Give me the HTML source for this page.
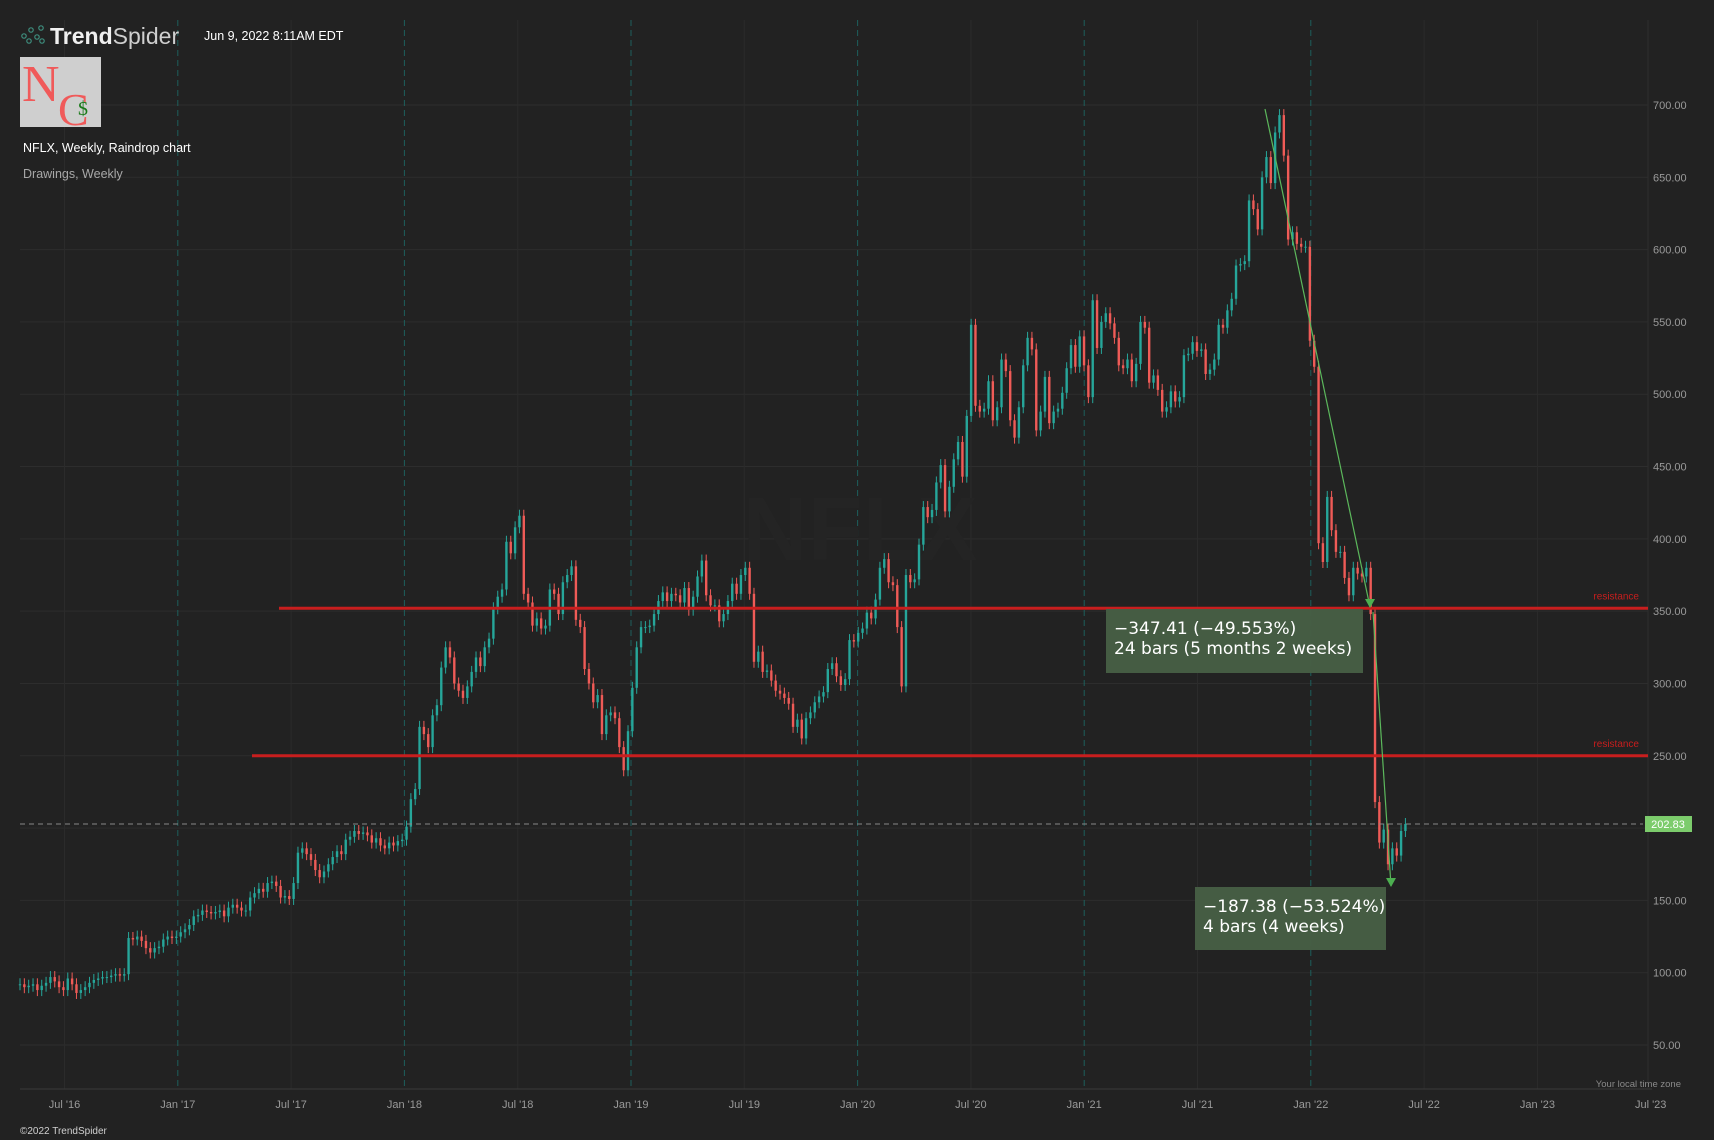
<!DOCTYPE html>
<html><head><meta charset="utf-8">
<style>
html,body{margin:0;padding:0;background:#222222;}
#wrap{position:relative;width:1714px;height:1140px;overflow:hidden;background:#222222;font-family:"Liberation Sans","DejaVu Sans",sans-serif;}
svg{position:absolute;left:0;top:0;}
</style></head>
<body>
<div id="wrap">
<svg id="chart" width="1714" height="1140"></svg>
</div>
<script>
// ---- data (weekly closes, NFLX, starting week of Apr 18 2016) ----
const closes2016 = [92,90, 91,92,88,91,93, 97,94,90,88, 96,92,86,88, 90,93,95,96, 97,97,98,99,98, 99,124,123,125, 122,117,114,117, 118,123,125,124,125];
const closes2017 = [128,130,133,139, 140,143,142,141, 142,143,139,145,147, 145,143,143,152, 155,158,156,162, 163,160,152,153, 151,162,183,186,182, 178,171,166,170, 175,180,184,182, 192,194,198,196,197, 195,190,193,188, 186,190,188,191,192];
const closes2018 = [201,220,227,270, 265,256,278,285, 311,325,318,300,295, 290,298,308,318, 312,325,331,352, 360,365,398,390, 408,416,362,356,340, 345,338,340,365, 362,348,370,375, 381,344,339,310,300, 287,292,265,278, 280,276,256,240,267];
const closes2019 = [297,325,339,339, 340,348,357,363, 357,362,361,356, 366,351,360,374, 385,361,354,354,343, 348,357,369,362, 375,380,362,315,322, 308,309,302,295, 293,290,286,270, 275,262,276,280,287, 291,294,310,314, 305,299,303,330,329];
const closes2020 = [335,338,349,345, 358,380,386,370, 368,339,298,375,370, 372,396,422,415, 420,439,451,419, 436,455,467,443, 485,548,492,488,490, 509,482,491,524, 516,482,470,491, 520,539,531,475,488, 512,480,488,490, 501,518,534,519,540];
const closes2021 = [520,498,565,532, 550,556,549,539, 520,518,524,509,521, 550,546,508,513, 503,488,491,502, 495,498,527,528, 536,530,531,514,517, 524,548,546,558, 566,589,590,592, 634,628,614,650,664, 646,681,693,665, 607,612,604,602,602];
const closes2022 = [537,519,397,384, 429,406,391,391, 373,361,380,376,374, 380,348,218,190, 199,175,186,181, 198,202.83];
const closes = [].concat(closes2016,closes2017,closes2018,closes2019,closes2020,closes2021,closes2022);
const priceTicks = [700,650,600,550,500,450,400,350,300,250,200,150,100,50];
const priceTickLabels = ["700.00","650.00","600.00","550.00","500.00","450.00","400.00","350.00","300.00","250.00","","150.00","100.00","50.00"];
const timeLabels = ["Jul '16","Jan '17","Jul '17","Jan '18","Jul '18","Jan '19","Jul '19","Jan '20","Jul '20","Jan '21","Jul '21","Jan '22","Jul '22","Jan '23","Jul '23"];
const resistanceLevels = [352,250];
const lastPrice = 202.83;

// ---- axes ----
const NS="http://www.w3.org/2000/svg";
const svg=document.getElementById('chart');
const WEEK=4.343, X0=20;
function x(i){return X0+i*WEEK;}
function xHalf(k){return 64.5+k*113.3;}
function y(p){return 105+(700-p)/50*72.31;}
function el(tag,attrs,parent){const e=document.createElementNS(NS,tag);for(const k in attrs)e.setAttribute(k,attrs[k]);(parent||svg).appendChild(e);return e;}

// grid
priceTicks.forEach((p,i)=>{
  const g=el('line',{x1:20,x2:1648,y1:y(p),y2:y(p),stroke:'#2d2d2d','stroke-width':1});
  
  
  if(priceTickLabels[i]){
    const t=el('text',{x:1653,y:y(p)+4,fill:'#9a9a9a','font-size':11});
    t.textContent=priceTickLabels[i];
    
    
  }
});
timeLabels.forEach((lab,k)=>{
  const xx=xHalf(k);
  const isJan=lab.startsWith('Jan') && xx<1400;
  if(xx<1646){
    const g=el('line',{x1:xx,x2:xx,y1:20,y2:1089,stroke:isJan?'#1d5f5c':'#2b2b2b','stroke-width':1,'stroke-dasharray':isJan?'6,4':'none'});
    
    
  }
  const t=el('text',{x:xx,y:1108,fill:'#9a9a9a','font-size':11,'text-anchor':'middle'});
  t.textContent=lab;
  
  
});
const ax=el('line',{x1:20,x2:1652,y1:1089,y2:1089,stroke:'#3a3a3a','stroke-width':1});


const ay=el('line',{x1:1648,x2:1648,y1:20,y2:1089,stroke:'#2d2d2d','stroke-width':1});



// watermark
const wm=el('text',{x:860,y:560,fill:'#242424','font-size':90,'font-weight':'bold','text-anchor':'middle'});
wm.textContent='NFLX';



// candles
for(let i=0;i<closes.length;i++){
  const c=closes[i], o=i>0?closes[i-1]:c;
  const up=c>=o;
  const col=up?'#26a69a':'#ef5b57';
  const yt=y(Math.max(o,c)), yb=y(Math.min(o,c));
  const w=el('line',{x1:x(i),x2:x(i),y1:yt-6,y2:yb+6,stroke:col,'stroke-width':1});
  
  
  const b=el('rect',{x:x(i)-1.2,y:yt,width:2.4,height:Math.max(1,yb-yt),fill:col});
  
  
}

// resistance
const resStart=[279,252];
resistanceLevels.forEach((p,i)=>{
  const l=el('line',{x1:resStart[i],x2:1648,y1:y(p),y2:y(p),stroke:'#c81e1e','stroke-width':3});
  
  
  const t=el('text',{x:1639,y:y(p)-9,fill:'#c81e1e','font-size':10,'text-anchor':'end'});
  t.textContent='resistance';
  
  
});

// last price line
const lp=el('line',{x1:20,x2:1643,y1:y(lastPrice),y2:y(lastPrice),stroke:'#888','stroke-width':1,'stroke-dasharray':'5,4'});


const lpb=el('rect',{x:1645,y:y(lastPrice)-8,width:47,height:16,fill:'#7ccc6c'});


const lpt=el('text',{x:1668,y:y(lastPrice)+4,fill:'#fff','font-size':11,'text-anchor':'middle'});
lpt.textContent='202.83';



// measurement lines
function arrowLine(x1,y1,x2,y2,name){
  const l=el('line',{x1:x1,y1:y1,x2:x2,y2:y2,stroke:'#5cb85c','stroke-width':1.2});
  
  
  const a=el('polygon',{points:`${x2-5},${y2-8} ${x2+5},${y2-8} ${x2},${y2+1}`,fill:'#4caf50'});
  
  
}
arrowLine(1265,109,1370,607,'measure-line-1');
arrowLine(1373,612,1391,886,'measure-line-2');
function box(bx,by,bw,bh,l1,l2,name){
  const r=el('rect',{x:bx,y:by,width:bw,height:bh,fill:'#465e44','fill-opacity':0.97});
  
  
  const t1=el('text',{x:bx+8,y:by+25,fill:'#fff','font-size':17,'font-family':'"DejaVu Sans",sans-serif'});
  t1.textContent=l1;
  
  
  const t2=el('text',{x:bx+8,y:by+45,fill:'#fff','font-size':17,'font-family':'"DejaVu Sans",sans-serif'});
  t2.textContent=l2;
  
  
}
box(1106,609,257,64,'\u2212347.41 (\u221249.553%)','24 bars (5 months 2 weeks)','measure-box-1');
box(1195,887,191,63,'\u2212187.38 (\u221253.524%)','4 bars (4 weeks)','measure-box-2');

// header
const logo=el('g',{});


[[24,36],[31,30],[37,37],[41,28],[42,41],[29,41]].forEach(p=>{el('circle',{cx:p[0],cy:p[1],r:2.2,fill:'none',stroke:'#3e8e7e','stroke-width':1.2},logo);});
const ts=el('text',{x:50,y:44,fill:'#f0f0f0','font-size':23},logo);
ts.innerHTML='<tspan font-weight="bold">Trend</tspan><tspan fill="#cfcfcf">Spider</tspan>';
const dt=el('text',{x:204,y:40,fill:'#ffffff','font-size':12.5});
dt.textContent='Jun 9, 2022 8:11AM EDT';


const nc=el('g',{});


el('rect',{x:20,y:57,width:81,height:70,fill:'#cfcfcf'},nc);
const n1=el('text',{x:22,y:101,fill:'#f05a5a','font-size':52,'font-family':'"Liberation Serif",serif'},nc);n1.textContent='N';
const n2=el('text',{x:58,y:125,fill:'#f05a5a','font-size':46,'font-family':'"Liberation Serif",serif'},nc);n2.textContent='C';
const n3=el('text',{x:78,y:115,fill:'#1a7a1a','font-size':20,'font-family':'"Liberation Serif",serif'},nc);n3.textContent='$';
const tt=el('text',{x:23,y:152,fill:'#ffffff','font-size':12.5});
tt.textContent='NFLX, Weekly, Raindrop chart';


const dw=el('text',{x:23,y:178,fill:'#a8a8a8','font-size':12.5});
dw.textContent='Drawings, Weekly';


const tz=el('text',{x:1681,y:1087,fill:'#8a8a8a','font-size':9.5,'text-anchor':'end'});
tz.textContent='Your local time zone';


const cp=el('text',{x:20,y:1134,fill:'#d0d0d0','font-size':10});
cp.textContent='\u00a92022 TrendSpider';


</script>
</body></html>
